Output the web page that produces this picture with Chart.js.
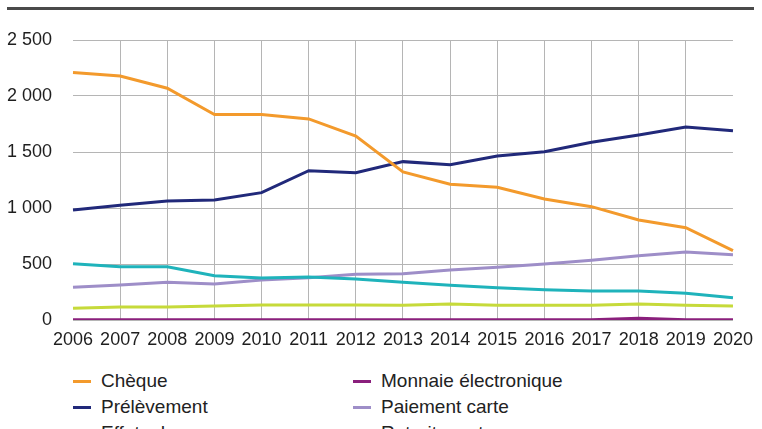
<!DOCTYPE html>
<html>
<head>
<meta charset="utf-8">
<script src="https://cdn.jsdelivr.net/npm/chart.js@4/dist/chart.umd.min.js"></script>
<style>
  body { margin: 0; background: #fff; width: 762px; height: 429px; overflow: hidden; position: relative; }
  #topRule { position: absolute; left: 7px; top: 7px; width: 747px; height: 3px; background: #4a4a4a; }
  #wrap { position: absolute; left: 0; top: 0; width: 762px; height: 360px; }
  #legend { position: absolute; left: 0; top: 368px; font-family: "Liberation Sans", Arial, sans-serif; font-size: 19px; color: #222; }
  .item { position: absolute; white-space: nowrap; height: 26px; line-height: 26px; }
  .mark { position: absolute; top: 12px; width: 18px; height: 3px; }
  .lbl { position: absolute; white-space: nowrap; }
</style>
</head>
<body>
<div id="topRule"></div>
<div id="wrap"><canvas id="chart"></canvas></div>
<div id="legend"></div>
<script>
// Years on the x axis
const YEARS = ["2006", "2007", "2008", "2009", "2010", "2011", "2012", "2013",
  "2014", "2015", "2016", "2017", "2018", "2019", "2020"];

// Series values
const CHEQUE = [2209, 2179, 2069, 1834, 1834, 1795, 1643, 1322, 1212, 1185, 1080, 1012, 893, 824, 619];
const PRELEVEMENT = [982, 1024, 1063, 1071, 1137, 1333, 1315, 1414, 1387, 1464, 1503, 1587, 1652, 1723, 1690];
const EFFETS = [503, 476, 476, 396, 375, 384, 366, 336, 310, 289, 271, 259, 259, 238, 199];
const MONNAIE = [2, 2, 2, 2, 2, 2, 2, 2, 2, 2, 2, 2, 15, 3, 3];
const CARTE = [292, 313, 336, 321, 357, 378, 408, 414, 447, 470, 500, 533, 574, 607, 583];
const RETRAITS = [104, 116, 116, 125, 134, 134, 134, 131, 143, 131, 131, 131, 143, 131, 125];

// Y ticks
const Y_MIN = 0;
const Y_MAX = 2500;
const Y_STEP = 500;

const FONT = "'Liberation Sans', Arial, sans-serif";

function line(label, data, color) {
  return {
    label: label,
    data: data,
    borderColor: color,
    backgroundColor: color,
    borderWidth: 3,
    pointRadius: 0,
    tension: 0,
    fill: false,
  };
}

const datasets = [
  line("Chèque", CHEQUE, "#f39a2c"),
  line("Prélèvement", PRELEVEMENT, "#21297a"),
  line("Effets de commerce", EFFETS, "#1fb3bb"),
  line("Monnaie électronique", MONNAIE, "#8a1f7c"),
  line("Paiement carte", CARTE, "#9e8ec8"),
  line("Retraits carte", RETRAITS, "#c6da3a"),
];

const chart = new Chart(document.getElementById("chart"), {
  type: "line",
  data: { labels: YEARS, datasets: datasets },
  options: {
    responsive: true,
    maintainAspectRatio: false,
    animation: false,
    layout: { padding: { left: 0, right: 26, top: 40, bottom: 0 } },
    plugins: { legend: { display: false }, tooltip: { enabled: false } },
    scales: {
      x: {
        offset: false,
        border: { display: false },
        grid: {
          drawTicks: false,
          color: (ctx) => (ctx.index === 0 || ctx.index === YEARS.length - 1 ? "rgba(0,0,0,0)" : "#b5b5b5"),
          lineWidth: 1,
        },
        ticks: { color: "#1e1e1e", font: { family: FONT, size: 18 }, padding: 9, maxRotation: 0, autoSkip: false },
        afterFit: (scale) => { scale.height = 40; },
      },
      y: {
        min: Y_MIN,
        max: Y_MAX,
        border: { display: false },
        grid: { drawTicks: false, color: "#b5b5b5", lineWidth: 1 },
        ticks: {
          stepSize: Y_STEP,
          color: "#1e1e1e",
          padding: 21,
          font: { family: FONT, size: 18 },
          callback: (v) => String(v).replace(/\B(?=(\d{3})+(?!\d))/g, " "),
        },
        afterFit: (scale) => { scale.width = 73; },
      },
    },
  },
});

// Two-column legend, filled column by column
const legend = document.getElementById("legend");
datasets.forEach((ds, i) => {
  const col = Math.floor(i / 3);
  const row = i % 3;
  const item = document.createElement("div");
  item.className = "item";
  item.style.top = row * 26 + "px";
  item.style.left = (col === 0 ? 73 : 353) + "px";
  item.innerHTML =
    `<span class="mark" style="left:0;background:${ds.borderColor}"></span>` +
    `<span class="lbl" style="left:28px">${ds.label}</span>`;
  legend.appendChild(item);
});
</script>
</body>
</html>
